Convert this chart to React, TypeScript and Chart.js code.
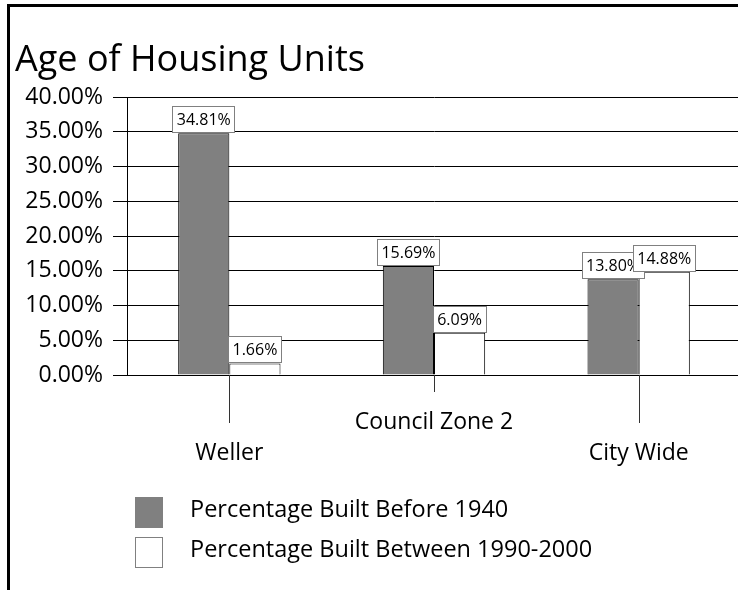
import React, { useEffect, useRef } from "react";
import { Chart, registerables } from "chart.js";

Chart.register(...registerables);

const categories = ["Weller", "Council Zone 2", "City Wide"];
const builtBefore1940 = [34.81, 15.69, 13.8];
const built1990to2000 = [1.66, 6.09, 14.88];
const seriesNames = ["Percentage Built Before 1940", "Percentage Built Between 1990-2000"];
const chartTitle = "Age of Housing Units";
const yMin = 0;
const yMax = 40;
const yStep = 5;

const FONT = "'Open Sans', sans-serif";
const DARK = "#808080";

const valueLabelPlugin = {
  id: "valueLabels",
  afterDatasetsDraw(chart: any) {
    const ctx = chart.ctx;
    ctx.save();
    ctx.font = `16px ${FONT}`;
    ctx.textAlign = "center";
    ctx.textBaseline = "middle";
    chart.data.datasets.forEach((ds: any, d: number) => {
      const meta = chart.getDatasetMeta(d);
      meta.data.forEach((bar: any, i: number) => {
        const v = ds.data[i];
        const text = v.toFixed(2) + "%";
        const { x, y } = bar.getProps(["x", "y"], true);
        const w = Math.round(ctx.measureText(text).width + 9);
        const h = 27;
        const left = Math.round(x - w / 2);
        const top = Math.round(y - h);
        ctx.fillStyle = "#ffffff";
        ctx.fillRect(left, top, w, h);
        ctx.strokeStyle = "#808080";
        ctx.lineWidth = 1;
        ctx.strokeRect(left + 0.5, top + 0.5, w - 1, h - 1);
        ctx.fillStyle = "#000";
        ctx.fillText(text, x, top + h / 2 + 1);
      });
    });
    ctx.restore();
  },
};

const categoryTickPlugin = {
  id: "categoryTicks",
  afterDraw(chart: any) {
    const ctx = chart.ctx;
    const xs = chart.scales.x;
    const bottom = chart.chartArea.bottom;
    ctx.save();
    ctx.strokeStyle = "#333";
    ctx.lineWidth = 1;
    chart.data.labels.forEach((_: any, i: number) => {
      const x = Math.round(xs.getPixelForValue(i)) + 0.5;
      const len = i % 2 === 1 ? 17 : 48;
      ctx.beginPath();
      ctx.moveTo(x, bottom);
      ctx.lineTo(x, bottom + len);
      ctx.stroke();
    });
    ctx.restore();
  },
};

const legendPlugin = {
  id: "stackedLegend",
  afterDraw(chart: any) {
    const ctx = chart.ctx;
    ctx.save();
    ctx.font = `23.5px ${FONT}`;
    ctx.textAlign = "left";
    ctx.textBaseline = "alphabetic";
    chart.data.datasets.forEach((ds: any, i: number) => {
      const bx = 135;
      const by = 497 + i * 40;
      ctx.fillStyle = ds.backgroundColor;
      ctx.fillRect(bx, by, 28, 31);
      ctx.strokeStyle = "#808080";
      ctx.lineWidth = 1;
      ctx.strokeRect(bx + 0.5, by + 0.5, 27, 30);
      ctx.fillStyle = "#000";
      ctx.fillText(ds.label, 190, by + 20);
    });
    ctx.restore();
  },
};

export default function App() {
  const ref = useRef<HTMLCanvasElement>(null);

  useEffect(() => {
    const chart = new Chart(ref.current as HTMLCanvasElement, {
      type: "bar",
      data: {
        labels: categories,
        datasets: [
          {
            label: seriesNames[0],
            data: builtBefore1940,
            backgroundColor: DARK,
            borderColor: "#000",
            borderWidth: 1,
            categoryPercentage: 0.5,
            barPercentage: 1.0,
          },
          {
            label: seriesNames[1],
            data: built1990to2000,
            backgroundColor: "#ffffff",
            borderColor: "#000",
            borderWidth: 1,
            categoryPercentage: 0.5,
            barPercentage: 1.0,
          },
        ],
      },
      options: {
        responsive: false,
        animation: false,
        layout: { padding: { left: 15, right: 0, top: 0, bottom: 0 } },
        plugins: {
          legend: { display: false },
          tooltip: { enabled: false },
          title: {
            display: true,
            text: chartTitle,
            align: "start",
            color: "#000",
            font: { family: FONT, size: 36, weight: "normal" },
            padding: { top: 39, bottom: 15 },
          },
        },
        scales: {
          x: {
            grid: { display: false, drawTicks: false },
            border: { display: false },
            ticks: {
              color: "#000",
              font: { family: FONT, size: 23, lineHeight: 1.35 },
              padding: 32,
              maxRotation: 0,
              autoSkip: false,
              callback: (_v: any, i: number) =>
                i % 2 === 1 ? [categories[i]] : ["", categories[i]],
            },
            afterFit: (scale: any) => {
              scale.height = 215;
            },
          },
          y: {
            min: yMin,
            max: yMax,
            grid: { color: "#000", lineWidth: 1, drawTicks: true, tickLength: 14 },
            border: { display: true, color: "#000", width: 1 },
            ticks: {
              stepSize: yStep,
              color: "#000",
              padding: 10,
              font: { family: FONT, size: 23 },
              callback: (v: any) => Number(v).toFixed(2) + "%",
            },
            afterFit: (scale: any) => {
              scale.width = 112;
            },
          },
        },
      },
      plugins: [valueLabelPlugin, categoryTickPlugin, legendPlugin],
    } as any);
    return () => chart.destroy();
  }, []);

  return (
    <div
      style={{
        position: "absolute",
        left: 0,
        top: 0,
        width: 738,
        height: 590,
        overflow: "hidden",
        background: "#fff",
      }}
    >
      <div
        style={{
          position: "absolute",
          left: 7,
          top: 4,
          width: 760,
          height: 620,
          borderTop: "3px solid #000",
          borderLeft: "3px solid #000",
        }}
      />
      <canvas
        ref={ref}
        width={741}
        height={590}
        style={{ position: "absolute", left: 0, top: 0, width: 741, height: 590 }}
      />
    </div>
  );
}
